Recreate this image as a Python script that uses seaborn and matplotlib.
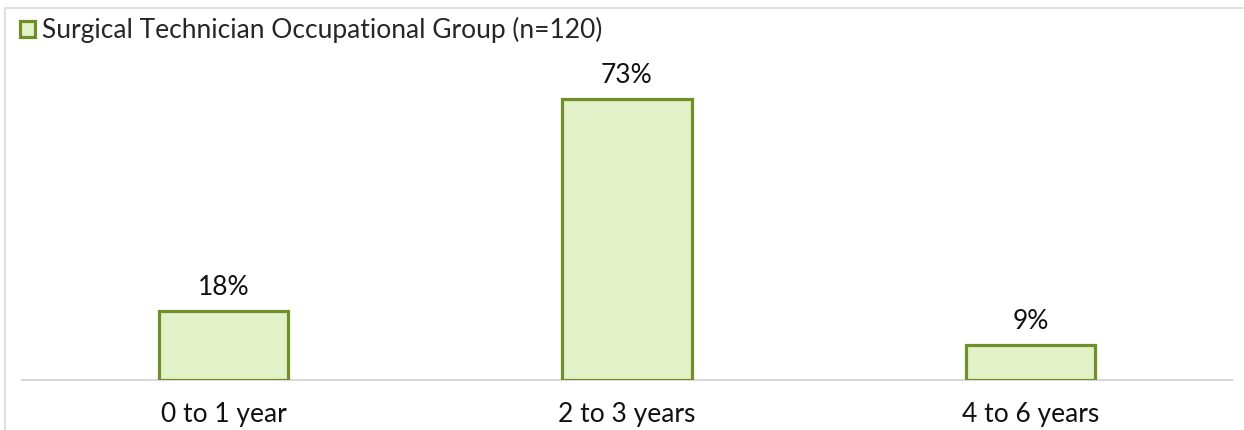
import pandas as pd
import matplotlib.pyplot as plt
import seaborn as sns
from matplotlib.patches import Rectangle, Patch

# Chart data
categories = ["0 to 1 year", "2 to 3 years", "4 to 6 years"]
values = [18, 73, 9]
series_name = "Surgical Technician Occupational Group (n=120)"

df = pd.DataFrame({"category": categories, "pct": values})

sns.set_style("white")
plt.rcParams['font.family'] = ['Lato', 'DejaVu Sans']

edge_col = "#6E8F2A"
fill_col = "#E3F1C8"
txt_size = 19

fig = plt.figure(figsize=(12.44, 4.30), dpi=100)
ax = fig.add_axes([22 / 1244, 50 / 430, 1210 / 1244, 308 / 430])

sns.barplot(data=df, x="category", y="pct", ax=ax, width=0.32,
            color=fill_col, edgecolor=edge_col, linewidth=2.3, saturation=1)

ax.set_ylim(0, 80)
ax.set_xlim(-0.5, 2.5)
ax.set_xlabel("")
ax.set_ylabel("")
ax.set_yticks([])
for s in ["top", "right", "left"]:
    ax.spines[s].set_visible(False)
ax.spines["bottom"].set_color("#D9D9D9")
ax.spines["bottom"].set_linewidth(1.5)
ax.spines["bottom"].set_zorder(0)
ax.tick_params(axis="x", length=0, pad=16, labelsize=txt_size, labelcolor="#111111")

for c in ax.containers:
    ax.bar_label(c, labels=[f"{v}%" for v in values], padding=8,
                 fontsize=txt_size, color="#111111")

# legend at top-left
handle = Patch(facecolor=fill_col, edgecolor=edge_col, linewidth=2.3)
fig.legend([handle], [series_name], loc="upper left",
           bbox_to_anchor=(20 / 1244, 1 - 17 / 430), frameon=False,
           fontsize=txt_size, handlelength=0.55, handleheight=0.55, handletextpad=0.3,
           borderaxespad=0, borderpad=0)

# outer chart frame
fig.patches.append(Rectangle((5 / 1244, -0.1), 1.2, 1 - 8 / 430 + 0.1,
                             transform=fig.transFigure, fill=False,
                             edgecolor="#D9D9D9", linewidth=1.2))

fig.savefig("out.png", dpi=100)
